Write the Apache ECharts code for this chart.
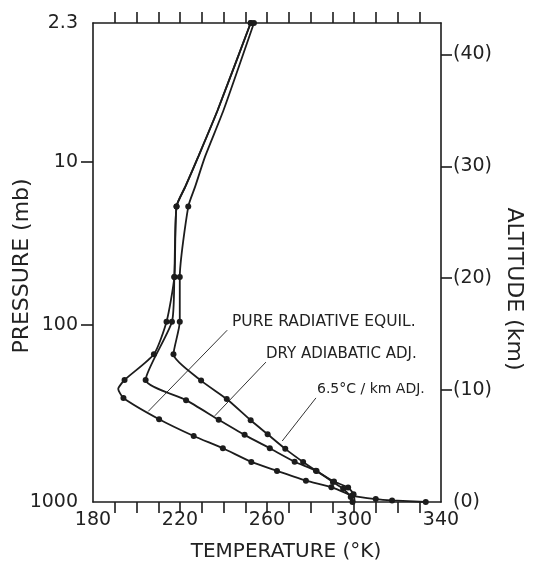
<!DOCTYPE html>
<html>
<head>
<meta charset="utf-8">
<script src="https://cdn.jsdelivr.net/npm/echarts@6/dist/echarts.min.js"></script>
<style>
html,body{margin:0;padding:0;background:#fff;}
#chart{width:538px;height:571px;}
</style>
</head>
<body>
<div id="chart"></div>
<script>
// ---- axis tick labels ----
const tempLabelValues = [180, 220, 260, 300, 340];
const tempTickValues = [190, 200, 210, 220, 230, 240, 250, 260, 270, 280, 290, 300, 310, 320, 330];
const pressureLabels = ['2.3', '10', '100', '1000'];
const pressureLevelAltitudes = [42.8, 30.4, 15.8, 0];   // km at which pressure labels sit
const altitudeLabels = [0, 10, 20, 30, 40];

// ---- Pure radiative equilibrium (temperature K, altitude km, marker flag) ----
const radTemp = [252.5, 237.3, 228.5, 222.5, 218.4, 217.4, 213.8, 208.0, 194.5, 191.6, 194.0, 210.4, 226.3, 239.7, 252.8, 264.6, 277.9, 289.6, 299.2, 310.0, 317.5, 333.0];
const radAlt  = [42.8, 35.0, 30.9, 28.2, 26.4, 20.1, 16.1, 13.2, 10.9, 10.1, 9.3, 7.4, 5.9, 4.8, 3.58, 2.78, 1.9, 1.32, 0.58, 0.26, 0.14, 0];
const radDot  = [1, 0, 0, 0, 1, 1, 1, 1, 1, 0, 1, 1, 1, 1, 1, 1, 1, 1, 1, 1, 1, 1];

// ---- Dry adiabatic adjustment ----
const dryTemp = [252.5, 237.3, 228.5, 222.5, 218.4, 217.4, 216.3, 204.2, 222.8, 237.8, 249.7, 261.3, 272.7, 282.5, 290.3, 295.0, 298.5, 299.3];
const dryAlt  = [42.8, 35.0, 30.9, 28.2, 26.4, 20.1, 16.1, 10.9, 9.1, 7.35, 6.0, 4.8, 3.6, 2.8, 1.78, 1.19, 0.45, 0];
const dryDot  = [1, 0, 0, 0, 1, 1, 1, 1, 1, 1, 1, 1, 1, 1, 1, 1, 1, 1];

// ---- 6.5 C/km adjustment ----
const lapseTemp = [254.0, 240.0, 231.6, 227.0, 223.8, 219.9, 219.9, 217.0, 229.7, 241.5, 252.5, 260.3, 268.4, 276.6, 282.8, 290.8, 297.3, 299.8, 300.3];
const lapseAlt  = [42.8, 35.0, 30.9, 28.2, 26.4, 20.1, 16.1, 13.2, 10.85, 9.2, 7.3, 6.05, 4.75, 3.58, 2.78, 1.83, 1.3, 0.7, 0];
const lapseDot  = [1, 0, 0, 0, 1, 1, 1, 1, 1, 1, 1, 1, 1, 1, 1, 1, 1, 1, 0];

// ---- leader lines for the curve labels (temperature, altitude) ----
const leaderPure  = [[241.7, 15.35], [205.4, 8.1]];
const leaderDry   = [[259.5, 12.5], [236.0, 7.7]];
const leaderLapse = [[282.5, 9.3], [267.0, 5.45]];

const FONT = 'DejaVu Sans';
const INK = '#1c1c1c';
const axisLineStyle = { color: INK, width: 1.6 };

function curve(name, temps, alts, dots) {
  return {
    name: name,
    type: 'line',
    smooth: 0.2,
    data: temps.map((t, i) => ({ value: [t, alts[i]], symbol: dots[i] ? 'circle' : 'none' })),
    symbolSize: 6,
    showAllSymbol: true,
    lineStyle: { color: INK, width: 1.8 },
    itemStyle: { color: INK, borderWidth: 0 },
    clip: false,
    z: 3
  };
}
function leader(pts) {
  return {
    type: 'line', data: pts, symbol: 'none', silent: true,
    lineStyle: { color: '#333', width: 1 }, z: 2
  };
}

const chart = echarts.init(document.getElementById('chart'), null, { renderer: 'canvas' });
const labelText = { fontFamily: FONT, fontSize: 19, color: '#222' };
const option = {
  backgroundColor: '#fff',
  animation: false,
  grid: { left: 93, right: 97, top: 23, bottom: 69 },
  xAxis: [
    {
      type: 'value', position: 'bottom', min: 180, max: 340, interval: 10,
      axisLine: { show: true, onZero: false, lineStyle: axisLineStyle },
      axisTick: { show: true, length: 11, inside: false, customValues: tempTickValues, lineStyle: axisLineStyle },
      axisLabel: Object.assign({ customValues: tempLabelValues, margin: 9 }, labelText),
      splitLine: { show: false }
    },
    {
      type: 'value', position: 'top', min: 180, max: 340, interval: 10,
      axisLine: { show: true, onZero: false, lineStyle: axisLineStyle },
      axisTick: { show: true, length: 11, inside: false, customValues: tempTickValues, lineStyle: axisLineStyle },
      axisLabel: { show: false },
      splitLine: { show: false }
    }
  ],
  yAxis: [
    {
      type: 'value', position: 'left', min: 0, max: 42.8,
      axisLine: { show: true, onZero: false, lineStyle: axisLineStyle },
      axisTick: { show: true, length: 12, inside: false, customValues: [pressureLevelAltitudes[1], pressureLevelAltitudes[2]], lineStyle: axisLineStyle },
      axisLabel: Object.assign({
        customValues: pressureLevelAltitudes, showMinLabel: true, showMaxLabel: true, margin: 15,
        formatter: function (v) {
          let best = 0, bd = 1e9;
          pressureLevelAltitudes.forEach((a, i) => { const d = Math.abs(a - v); if (d < bd) { bd = d; best = i; } });
          return pressureLabels[best];
        }
      }, labelText),
      splitLine: { show: false }
    },
    {
      type: 'value', position: 'right', min: 0, max: 42.8,
      axisLine: { show: true, onZero: false, lineStyle: axisLineStyle },
      axisTick: { show: true, length: 11, inside: false, customValues: altitudeLabels.filter(v => v > 0), lineStyle: axisLineStyle },
      axisLabel: Object.assign({
        customValues: altitudeLabels, showMinLabel: true, showMaxLabel: true, margin: 12,
        formatter: v => '(' + Math.round(v) + ')'
      }, labelText),
      splitLine: { show: false }
    }
  ],
  series: [
    curve('Pure radiative equilibrium', radTemp, radAlt, radDot),
    curve('Dry adiabatic adjustment', dryTemp, dryAlt, dryDot),
    curve('6.5°C/km adjustment', lapseTemp, lapseAlt, lapseDot),
    leader(leaderPure),
    leader(leaderDry),
    leader(leaderLapse)
  ],
  graphic: [
    { type: 'text', x: 22, y: 266, rotation: Math.PI / 2,
      style: { text: 'PRESSURE (mb)', x: 0, y: 0, fontFamily: FONT, fontSize: 22, fill: '#222', align: 'center', verticalAlign: 'middle', textAlign: 'center', textVerticalAlign: 'middle' } },
    { type: 'text', x: 514, y: 289, rotation: -Math.PI / 2,
      style: { text: 'ALTITUDE (km)', x: 0, y: 0, fontFamily: FONT, fontSize: 22, fill: '#222', align: 'center', verticalAlign: 'middle', textAlign: 'center', textVerticalAlign: 'middle' } },
    { type: 'text', x: 286, y: 552,
      style: { text: 'TEMPERATURE (°K)', x: 0, y: 0, fontFamily: FONT, fontSize: 20, fill: '#222', align: 'center', verticalAlign: 'middle', textAlign: 'center', textVerticalAlign: 'middle' } },
    { type: 'text', x: 232, y: 322,
      style: { text: 'PURE RADIATIVE EQUIL.', x: 0, y: 0, fontFamily: FONT, fontSize: 15.5, fill: '#222', align: 'left', verticalAlign: 'middle', textAlign: 'left', textVerticalAlign: 'middle' } },
    { type: 'text', x: 266, y: 354,
      style: { text: 'DRY ADIABATIC ADJ.', x: 0, y: 0, fontFamily: FONT, fontSize: 15, fill: '#222', align: 'left', verticalAlign: 'middle', textAlign: 'left', textVerticalAlign: 'middle' } },
    { type: 'text', x: 317, y: 389,
      style: { text: '6.5°C / km ADJ.', x: 0, y: 0, fontFamily: FONT, fontSize: 14, fill: '#222', align: 'left', verticalAlign: 'middle', textAlign: 'left', textVerticalAlign: 'middle' } }
  ]
};
chart.setOption(option);
</script>
</body>
</html>
